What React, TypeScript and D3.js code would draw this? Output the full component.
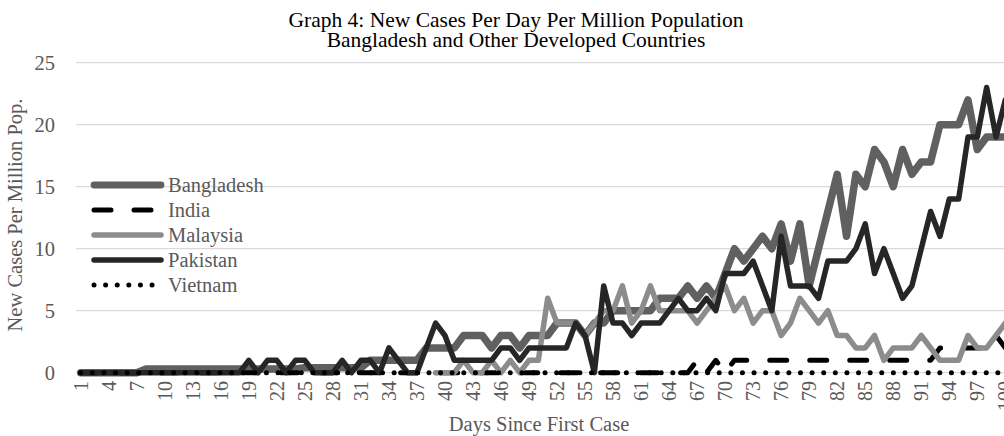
import { useEffect, useRef } from "react";
import * as d3 from "d3";

// days since first case (category axis)
const days = d3.range(1, 101);

// new cases per day per million
const bangladesh = [
  0, 0, 0, 0, 0, 0, 0, 0.3, 0.3, 0.3,
  0.3, 0.3, 0.3, 0.3, 0.3, 0.3, 0.3, 0.3, 0.3, 0.3,
  0.3, 0.3, 0.3, 0.3, 0.4, 0.4, 0.4, 0.4, 0.4, 0.4,
  0.4, 1, 1, 1, 1, 1, 1, 2, 2, 2,
  2, 3, 3, 3, 2, 3, 3, 2, 3, 3,
  3, 4, 4, 4, 3, 4, 4, 5, 5, 5,
  5, 5, 6, 6, 6, 7, 6, 7, 6, 8,
  10, 9, 10, 11, 10, 12, 9, 12, 7, 10,
  13, 16, 11, 16, 15, 18, 17, 15, 18, 16,
  17, 17, 20, 20, 20, 22, 18, 19, 19, 19,
];

const india = [
  0, 0, 0, 0, 0, 0, 0, 0, 0, 0,
  0, 0, 0, 0, 0, 0, 0, 0, 0, 0,
  0, 0, 0, 0, 0, 0, 0, 0, 0, 0,
  0, 0, 0, 0, 0, 0, 0, 0, 0, 0,
  0, 0, 0, 0, 0, 0, 0, 0, 0, 0,
  0, 0, 0, 0, 0, 0, 0, 0, 0, 0,
  0, 0, 0, 0, 0, 0, 1, 0, 1, 0,
  1, 1, 1, 1, 1, 1, 1, 1, 1, 1,
  1, 1, 1, 1, 1, 1, 1, 1, 1, 1,
  1, 1, 2, 2, 2, 2, 2, 2, 3, 2,
];

const malaysia = [
  null, null, null, null, null, null, null, null, null, null,
  null, null, null, null, null, null, null, null, null, null,
  null, null, null, null, null, null, null, null, null, null,
  null, null, null, null, null, null, null, null, 0, 0,
  0, 1, 0, 0, 1, 0, 1, 0, 1, 1,
  6, 4, 4, 4, 3, 4, 5, 5, 7, 4,
  5, 7, 5, 5, 5, 5, 4, 5, 6, 7,
  5, 6, 4, 5, 5, 3, 4, 6, 5, 4,
  5, 3, 3, 2, 2, 3, 1, 2, 2, 2,
  3, 2, 1, 1, 1, 3, 2, 2, 3, 4,
];

const pakistan = [
  0, 0, 0, 0, 0, 0, 0, 0, 0, 0,
  0, 0, 0, 0, 0, 0, 0, 0, 1, 0,
  1, 1, 0, 1, 1, 0, 0, 0, 1, 0,
  1, 1, 0, 2, 1, 0, 0, 2, 4, 3,
  1, 1, 1, 1, 1, 2, 2, 1, 2, 2,
  2, 2, 2, 4, 3, 0, 7, 4, 4, 3,
  4, 4, 4, 5, 6, 5, 5, 6, 5, 8,
  8, 8, 9, 7, 5, 11, 7, 7, 7, 6,
  9, 9, 9, 10, 12, 8, 10, 8, 6, 7,
  10, 13, 11, 14, 14, 19, 19, 23, 19, 22,
];

const vietnam = [
  0, 0, 0, 0, 0, 0, 0, 0, 0, 0,
  0, 0, 0, 0, 0, 0, 0, 0, 0, 0,
  0, 0, 0, 0, 0, 0, 0, 0, 0, 0,
  0, 0, 0, 0, 0, 0, 0, 0, 0, 0,
  0, 0, 0, 0, 0, 0, 0, 0, 0, 0,
  0, 0, 0, 0, 0, 0, 0, 0, 0, 0,
  0, 0, 0, 0, 0, 0, 0, 0, 0, 0,
  0, 0, 0, 0, 0, 0, 0, 0, 0, 0,
  0, 0, 0, 0, 0, 0, 0, 0, 0, 0,
  0, 0, 0, 0, 0, 0, 0, 0, 0, 0,
];

const yTicks = [0, 5, 10, 15, 20, 25];
const xTickDays = days.filter((d) => (d - 1) % 3 === 0);

const seriesNames = ["Bangladesh", "India", "Malaysia", "Pakistan", "Vietnam"];
const seriesValues = [bangladesh, india, malaysia, pakistan, vietnam];

const styles = {
  Bangladesh: { color: "#606060", width: 7.5, dash: null },
  India: { color: "#000000", width: 5, dash: "17 23" },
  Malaysia: { color: "#8c8c8c", width: 5.5, dash: null },
  Pakistan: { color: "#262626", width: 5.5, dash: null },
  Vietnam: { color: "#000000", width: 5, dash: "0.01 11.6" },
};

const FONT = "'Liberation Serif', 'Times New Roman', serif";
const TEXT = "#595959";

function drawChart(element) {
  d3.select(element).selectAll("*").remove();

  const width = 1004;
  const height = 436;
  const plot = { left: 76, right: 1010, top: 62.7, bottom: 372.7 };

  const svg = d3
    .select(element)
    .append("svg")
    .attr("width", width)
    .attr("height", height)
    .style("position", "absolute")
    .style("left", "0px")
    .style("top", "0px")
    .style("font-family", FONT);

  svg.append("rect").attr("width", width).attr("height", height).attr("fill", "#fff");

  const x = d3.scaleBand().domain(days).range([plot.left, plot.right]);
  const xc = (d) => x(d) + x.bandwidth() / 2;
  const y = d3.scaleLinear().domain([0, 25]).range([plot.bottom, plot.top]);

  // title, two lines
  svg
    .append("text")
    .attr("x", 516)
    .attr("y", 27)
    .attr("text-anchor", "middle")
    .attr("fill", "#000")
    .style("font-size", "21.5px")
    .text("Graph 4: New Cases Per Day Per Million Population");
  svg
    .append("text")
    .attr("x", 516)
    .attr("y", 47)
    .attr("text-anchor", "middle")
    .attr("fill", "#000")
    .style("font-size", "21.5px")
    .text("Bangladesh and Other Developed Countries");

  // gridlines
  svg
    .append("g")
    .selectAll("line")
    .data(yTicks)
    .join("line")
    .attr("x1", plot.left)
    .attr("x2", plot.right)
    .attr("y1", (d) => y(d))
    .attr("y2", (d) => y(d))
    .attr("stroke", "#d9d9d9")
    .attr("stroke-width", 1.3);

  // y tick labels
  svg
    .append("g")
    .selectAll("text")
    .data(yTicks)
    .join("text")
    .attr("x", 55)
    .attr("y", (d) => y(d))
    .attr("dy", "0.35em")
    .attr("text-anchor", "end")
    .attr("fill", TEXT)
    .style("font-size", "20.5px")
    .text((d) => d);

  // x tick labels
  svg
    .append("g")
    .selectAll("text")
    .data(xTickDays)
    .join("text")
    .attr("transform", (d) => "translate(" + xc(d) + ",381) rotate(-90)")
    .attr("dy", "0.35em")
    .attr("text-anchor", "end")
    .attr("fill", TEXT)
    .style("font-size", "20px")
    .text((d) => d);

  // axis titles
  svg
    .append("text")
    .attr("transform", "translate(22,215) rotate(-90)")
    .attr("text-anchor", "middle")
    .attr("fill", TEXT)
    .style("font-size", "20.5px")
    .text("New Cases Per Million Pop.");

  svg
    .append("text")
    .attr("x", 539)
    .attr("y", 431)
    .attr("text-anchor", "middle")
    .attr("fill", TEXT)
    .style("font-size", "20.5px")
    .text("Days Since First Case");

  // series lines
  const line = d3
    .line()
    .defined((d) => d.v !== null)
    .x((d) => xc(d.day))
    .y((d) => y(d.v));

  seriesNames.forEach((name, i) => {
    const st = styles[name];
    const pts = days.map((day, j) => ({ day, v: seriesValues[i][j] }));
    svg
      .append("path")
      .datum(pts)
      .attr("fill", "none")
      .attr("stroke", st.color)
      .attr("stroke-width", st.width)
      .attr("stroke-linejoin", "round")
      .attr("stroke-linecap", "round")
      .attr("stroke-dasharray", st.dash)
      .attr("d", line);
  });

  // legend
  const legend = svg.append("g");
  seriesNames.forEach((name, i) => {
    const st = styles[name];
    const ly = 185 + i * 25;
    legend
      .append("line")
      .attr("x1", 94)
      .attr("x2", name === "Vietnam" ? 158 : 161)
      .attr("y1", ly)
      .attr("y2", ly)
      .attr("stroke", st.color)
      .attr("stroke-width", name === "Bangladesh" ? 6.8 : st.width)
      .attr("stroke-linecap", "round")
      .attr("stroke-dasharray", st.dash);
    legend
      .append("text")
      .attr("x", 168)
      .attr("y", ly + 7)
      .attr("fill", TEXT)
      .style("font-size", "20.5px")
      .text(name);
  });
}

export default function App() {
  const ref = useRef(null);
  useEffect(() => {
    drawChart(ref.current);
  }, []);
  return <div ref={ref} />;
}
